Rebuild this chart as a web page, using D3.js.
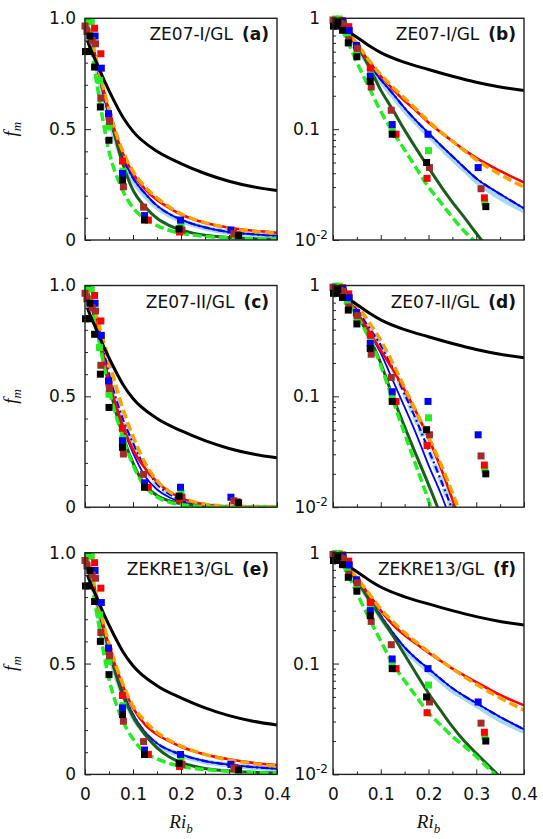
<!DOCTYPE html>
<html>
<head>
<meta charset="utf-8">
<script src="https://cdn.jsdelivr.net/npm/d3@7"></script>
<style>
  body { margin: 0; background: #fff; }
</style>
</head>
<body>
<div id="chart"></div>
<script>
// ---------- data ----------
// Ri_b grid used for the model curves
const riGrid = [0, 0.01, 0.025, 0.05, 0.075, 0.1, 0.125, 0.15, 0.175, 0.2, 0.225, 0.25, 0.275, 0.3, 0.35, 0.4];

// black reference curve (same in all panels)
const refRi = [0.005, 0.01, 0.02, 0.04, 0.06, 0.08, 0.1, 0.15, 0.2, 0.25, 0.3, 0.35, 0.4];
const refFm = [0.9, 0.87, 0.82, 0.72, 0.63, 0.55, 0.49, 0.40, 0.345, 0.30, 0.265, 0.24, 0.223];

// ZE07-I/GL  (a, b)
const redI       = [1, 0.93, 0.79, 0.58, 0.41, 0.30, 0.23, 0.18, 0.145, 0.115, 0.094, 0.078, 0.065, 0.055, 0.042, 0.033];
const orangeI    = [1, 0.94, 0.80, 0.59, 0.42, 0.31, 0.24, 0.19, 0.15, 0.118, 0.095, 0.078, 0.064, 0.053, 0.039, 0.030];
const blueI      = [1, 0.93, 0.78, 0.56, 0.39, 0.28, 0.21, 0.155, 0.118, 0.092, 0.072, 0.057, 0.045, 0.036, 0.026, 0.0193];
const ltblueI    = [1, 0.93, 0.775, 0.55, 0.38, 0.27, 0.20, 0.148, 0.113, 0.088, 0.069, 0.054, 0.043, 0.034, 0.024, 0.0184];
const dkgreenI   = [1, 0.93, 0.79, 0.575, 0.37, 0.225, 0.15, 0.098, 0.066, 0.045, 0.031, 0.022, 0.016, 0.0115, 0.006, 0.003];
const ltgreenI   = [0.98, 0.9, 0.70, 0.40, 0.24, 0.145, 0.095, 0.065, 0.044, 0.030, 0.022, 0.016, 0.012, 0.0095, 0.0058, 0.0036];

// ZE07-II/GL  (c, d)
const redII      = [1, 0.94, 0.82, 0.57, 0.39, 0.26, 0.176, 0.114, 0.071, 0.042, 0.023, 0.0118, 0.0057, 0.0026, 0.0006, 0.00015];
const orangeII   = [1, 0.95, 0.85, 0.66, 0.47, 0.32, 0.20, 0.12, 0.072, 0.043, 0.025, 0.0135, 0.007, 0.0035, 0.001, 0.0003];
const blueII     = [1, 0.94, 0.81, 0.56, 0.38, 0.245, 0.14, 0.08, 0.045, 0.024, 0.0135, 0.007, 0.0035, 0.0017, 0.0004, 0.0001];
const ltblueII   = [1, 0.94, 0.84, 0.60, 0.42, 0.29, 0.18, 0.105, 0.06, 0.033, 0.018, 0.0095, 0.005, 0.0025, 0.0006, 0.0002];
const dkgreenII  = [1, 0.94, 0.80, 0.55, 0.35, 0.20, 0.10, 0.053, 0.029, 0.016, 0.0085, 0.004, 0.0018, 0.0008, 0.00015, 0.00003];
const ltgreenII  = [0.98, 0.92, 0.79, 0.53, 0.34, 0.19, 0.093, 0.046, 0.023, 0.0115, 0.0055, 0.0025, 0.0011, 0.0005, 0.0001, 0.00002];

// ZEKRE13/GL  (e, f)
const redIII     = [1, 0.93, 0.79, 0.58, 0.42, 0.30, 0.225, 0.18, 0.15, 0.125, 0.106, 0.09, 0.078, 0.068, 0.052, 0.042];
const orangeIII  = [1, 0.94, 0.80, 0.59, 0.43, 0.31, 0.24, 0.19, 0.155, 0.128, 0.107, 0.09, 0.076, 0.065, 0.049, 0.038];
const blueIII    = [1, 0.93, 0.78, 0.56, 0.39, 0.27, 0.19, 0.14, 0.11, 0.09, 0.073, 0.06, 0.051, 0.044, 0.033, 0.0255];
const ltblueIII  = [1, 0.93, 0.775, 0.55, 0.38, 0.26, 0.185, 0.135, 0.106, 0.086, 0.07, 0.057, 0.049, 0.042, 0.031, 0.0244];
const dkgreenIII = [1, 0.93, 0.78, 0.56, 0.38, 0.26, 0.18, 0.12, 0.08, 0.054, 0.038, 0.027, 0.02, 0.0155, 0.0095, 0.006];
const ltgreenIII = [0.98, 0.9, 0.72, 0.43, 0.26, 0.16, 0.10, 0.07, 0.05, 0.036, 0.028, 0.022, 0.018, 0.0145, 0.009, 0.0058];

// observations (squares), same in all panels
const blackRi = [0.001, 0.007, 0.01, 0.02, 0.032, 0.05, 0.078, 0.124, 0.196, 0.32];
const blackFm = [0.85, 0.85, 0.92, 0.78, 0.60, 0.45, 0.27, 0.09, 0.05, 0.02];
const redRi   = [0.02, 0.033, 0.05, 0.078, 0.132, 0.197, 0.317];
const redFm   = [0.955, 0.84, 0.555, 0.356, 0.09, 0.036, 0.024];
const blueRi  = [0.021, 0.034, 0.049, 0.078, 0.124, 0.199, 0.304];
const blueFm  = [0.92, 0.775, 0.57, 0.30, 0.11, 0.09, 0.045];
const greenRi = [0.005, 0.013, 0.03, 0.05, 0.079, 0.124, 0.2, 0.318];
const greenFm = [0.985, 0.985, 0.72, 0.51, 0.31, 0.098, 0.064, 0.022];
const brownRi = [0.0, 0.004, 0.015, 0.022, 0.033, 0.051, 0.08, 0.122, 0.202, 0.31];
const brownFm = [0.965, 0.94, 0.9, 0.885, 0.64, 0.535, 0.24, 0.148, 0.045, 0.029];

// ---------- tables built from the arrays ----------
const curveSets = {
  I:   {ltblue: ltblueI,   blue: blueI,   bluedd: blueI,    dkgreen: dkgreenI,   red: redI,   orange: orangeI,   ltgreen: ltgreenI},
  II:  {ltblue: ltblueII,  blue: blueII,  bluedd: ltblueII, dkgreen: dkgreenII,  red: redII,  orange: orangeII,  ltgreen: ltgreenII},
  III: {ltblue: ltblueIII, blue: blueIII, bluedd: blueIII,  dkgreen: dkgreenIII, red: redIII, orange: orangeIII, ltgreen: ltgreenIII}
};

const styles = {
  ltblue:  {color: "#a8d8ee", width: 5,   dash: null},
  blue:    {color: "#0000ff", width: 1.8, dash: null},
  bluedd:  {color: "#0000ff", width: 2.2, dash: "7,3,2,3"},
  dkgreen: {color: "#1b5e1b", width: 3,   dash: null},
  red:     {color: "#ff0000", width: 2.6, dash: null},
  orange:  {color: "#ffa000", width: 3.5, dash: "9,4"},
  ltgreen: {color: "#22ee22", width: 3.5, dash: "9,4"}
};

const obs = [
  {color: "#22ee22", ri: greenRi, fm: greenFm},
  {color: "#ff0000", ri: redRi,   fm: redFm},
  {color: "#0000ff", ri: blueRi,  fm: blueFm},
  {color: "#a52a2a", ri: brownRi, fm: brownFm},
  {color: "#000000", ri: blackRi, fm: blackFm}
];

const panels = [
  {id: "a", title: "ZE07-I/GL",   tag: "(a)", set: "I",   log: false, col: 0, row: 0},
  {id: "b", title: "ZE07-I/GL",   tag: "(b)", set: "I",   log: true,  col: 1, row: 0},
  {id: "c", title: "ZE07-II/GL",  tag: "(c)", set: "II",  log: false, col: 0, row: 1},
  {id: "d", title: "ZE07-II/GL",  tag: "(d)", set: "II",  log: true,  col: 1, row: 1},
  {id: "e", title: "ZEKRE13/GL",  tag: "(e)", set: "III", log: false, col: 0, row: 2},
  {id: "f", title: "ZEKRE13/GL",  tag: "(f)", set: "III", log: true,  col: 1, row: 2}
];

// ---------- layout ----------
const colX = [[85, 277], [333, 524]];
const rowY = [18.3, 285.5, 552.7];
const panelH = 221.7;
const sansFont = "DejaVu Sans, Liberation Sans, Arial, sans-serif";
const serifFont = "Liberation Serif, Times New Roman, serif";

const svg = d3.select("#chart")
  .append("svg")
    .attr("width", 543)
    .attr("height", 839);

panels.forEach(function(p) {
  const x0 = colX[p.col][0], x1 = colX[p.col][1];
  const y0 = rowY[p.row], y1 = rowY[p.row] + panelH;

  const x = d3.scaleLinear().domain([0, 0.4]).range([x0, x1]);
  const y = p.log
    ? d3.scaleLog().domain([0.01, 1]).range([y1, y0])
    : d3.scaleLinear().domain([0, 1]).range([y1, y0]);

  const g = svg.append("g");

  // clip
  g.append("defs").append("clipPath")
      .attr("id", "clip-" + p.id)
    .append("rect")
      .attr("x", x0).attr("y", y0)
      .attr("width", x1 - x0).attr("height", y1 - y0);

  const plot = g.append("g").attr("clip-path", `url(#clip-${p.id})`);

  // model curves
  const line = d3.line()
    .x(d => x(d[0]))
    .y(d => y(d[1]))
    .curve(d3.curveMonotoneX);

  const set = curveSets[p.set];
  Object.keys(set).forEach(function(k) {
    const st = styles[k];
    let dash = st.dash;
    if (k === "ltblue" && p.set === "II") dash = "9,4";
    plot.append("path")
      .datum(riGrid.map((r, i) => [r, set[k][i]]))
      .attr("d", line)
      .attr("fill", "none")
      .attr("stroke", st.color)
      .attr("stroke-width", st.width)
      .attr("stroke-dasharray", dash);
  });

  // black reference curve
  plot.append("path")
    .datum(refRi.map((r, i) => [r, refFm[i]]))
    .attr("d", line)
    .attr("fill", "none")
    .attr("stroke", "#000")
    .attr("stroke-width", 3);

  // observation squares
  const sq = 7;
  obs.forEach(function(o) {
    g.selectAll(null)
      .data(o.ri.map((r, i) => [r, o.fm[i]]))
      .join("rect")
        .attr("x", d => x(d[0]) - sq / 2)
        .attr("y", d => y(d[1]) - sq / 2)
        .attr("width", sq)
        .attr("height", sq)
        .attr("fill", o.color);
  });

  // ---- axes ----
  const yMinor = p.log
    ? [0.02, 0.03, 0.04, 0.05, 0.06, 0.07, 0.08, 0.09, 0.2, 0.3, 0.4, 0.5, 0.6, 0.7, 0.8, 0.9]
    : [0.1, 0.2, 0.3, 0.4, 0.6, 0.7, 0.8, 0.9];
  const yMajor = p.log ? [0.01, 0.1, 1] : [0, 0.5, 1];

  const axisColor = "#222";

  const yMinG = g.append("g")
    .attr("transform", `translate(${x0},0)`)
    .attr("color", axisColor)
    .call(d3.axisLeft(y).tickValues(yMinor).tickSize(-3).tickFormat(""));
  yMinG.select(".domain").remove();

  const yMajG = g.append("g")
    .attr("transform", `translate(${x0},0)`)
    .attr("color", axisColor)
    .call(d3.axisLeft(y).tickValues(yMajor).tickSize(-6)
      .tickPadding(p.log ? 13 : 9)
      .tickFormat(d => p.log ? (d === 1 ? "1" : d === 0.1 ? "0.1" : "") : (d === 0 ? "0" : d3.format(".1f")(d))));
  yMajG.select(".domain").remove();
  yMajG.selectAll("text")
    .attr("font-family", sansFont)
    .attr("font-size", 17)
    .attr("fill", "#111");

  // 10^-2 label
  if (p.log) {
    yMajG.selectAll(".tick").filter(d => d === 0.01).select("text")
      .attr("x", -5)
      .each(function() {
        const t = d3.select(this);
        t.append("tspan").text("10");
        t.append("tspan").text("-2").attr("font-size", 12).attr("dy", -7);
      });
  }

  const xMinor = [0.05, 0.15, 0.25, 0.35];
  const xMajor = [0, 0.1, 0.2, 0.3, 0.4];

  const xMinG = g.append("g")
    .attr("transform", `translate(0,${y1})`)
    .attr("color", axisColor)
    .call(d3.axisBottom(x).tickValues(xMinor).tickSize(-3).tickFormat(""));
  xMinG.select(".domain").remove();

  const xMajG = g.append("g")
    .attr("transform", `translate(0,${y1})`)
    .attr("color", axisColor)
    .call(d3.axisBottom(x).tickValues(xMajor).tickSize(-5).tickPadding(14)
      .tickFormat(d => p.row === 2 ? (d === 0 ? "0" : d3.format(".1f")(d)) : ""));
  xMajG.select(".domain").remove();
  xMajG.selectAll("text")
    .attr("font-family", sansFont)
    .attr("font-size", 17)
    .attr("fill", "#111");

  // frame
  g.append("rect")
    .attr("x", x0).attr("y", y0)
    .attr("width", x1 - x0).attr("height", y1 - y0)
    .attr("fill", "none")
    .attr("stroke", axisColor)
    .attr("stroke-width", 1.4);

  // panel label
  const lab = g.append("text")
    .attr("x", x1 - 8)
    .attr("y", y0 + 22)
    .attr("text-anchor", "end")
    .attr("font-family", sansFont)
    .attr("font-size", 17)
    .attr("fill", "#111");
  lab.append("tspan").text(p.title);
  lab.append("tspan").text(p.tag).attr("font-weight", "bold").attr("dx", 9);

  // y label on left column
  if (p.col === 0) {
    const yl = g.append("text")
      .attr("transform", `translate(17,${(y0 + y1) / 2}) rotate(-90)`)
      .attr("text-anchor", "middle")
      .attr("font-family", serifFont)
      .attr("font-style", "italic")
      .attr("fill", "#111");
    yl.append("tspan").text("f").attr("font-size", 19);
    yl.append("tspan").text("m").attr("font-size", 13).attr("dy", 4);
  }

  // x label on bottom row
  if (p.row === 2) {
    const xl = g.append("text")
      .attr("x", (x0 + x1) / 2)
      .attr("y", 828)
      .attr("text-anchor", "middle")
      .attr("font-family", serifFont)
      .attr("font-style", "italic")
      .attr("fill", "#111");
    xl.append("tspan").text("Ri").attr("font-size", 19);
    xl.append("tspan").text("b").attr("font-size", 13).attr("dy", 5);
  }
});
</script>
</body>
</html>
